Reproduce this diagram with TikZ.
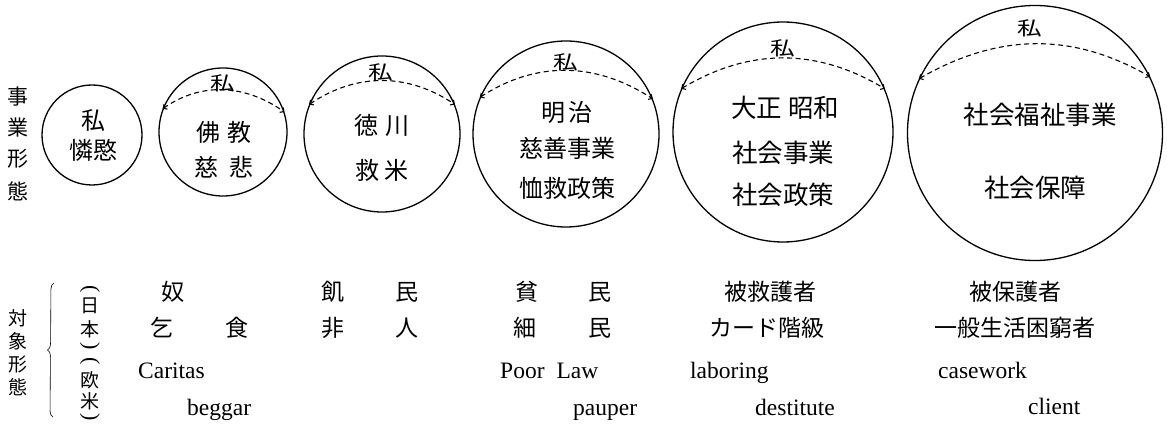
\documentclass[tikz,border=0pt]{standalone}
\usepackage{fontspec}
\setmainfont{Liberation Serif}
\newfontfamily\jp{Noto Sans CJK JP}
\usetikzlibrary{arrows.meta,decorations.pathreplacing}
\begin{document}
\begin{tikzpicture}[x=1pt,y=1pt,
  circ/.style={draw, circle, line width=1.3pt, inner sep=0pt, minimum size=#1},
  intxt/.style={font=\jp\fontsize{24}{24}\selectfont, inner sep=0pt},
  bigtxt/.style={font=\jp\fontsize{25.5}{25.5}\selectfont, inner sep=0pt},
  watashi/.style={font=\jp\fontsize{19}{19}\selectfont, inner sep=0pt},
  sidelab/.style={font=\jp\fontsize{21}{21}\selectfont, inner sep=0pt},
  sidelabb/.style={font=\jp\fontsize{19}{19}\selectfont, inner sep=0pt},
  vparen/.style={font=\fontsize{22}{22}\selectfont, inner sep=0pt, rotate=-90},
  rowjp/.style={font=\jp\fontsize{23}{23}\selectfont, inner sep=0pt},
  rowlat/.style={font=\fontsize{23.5}{23.5}\selectfont, inner sep=0pt, anchor=base west},
  splitline/.style={line width=1.1pt, dash pattern=on 5pt off 3.5pt,
     {Straight Barb[length=3pt,width=6pt]}-{Straight Barb[length=3pt,width=6pt]}},
  bracestyle/.style={line width=0.6pt, decorate, decoration={brace, amplitude=6pt}},
]
\useasboundingbox (0,0) rectangle (1167,423);

% ---- circles
\node[circ=100pt] (c1) at (92,288) {};
\node[circ=128pt] (c2) at (223,291) {};
\node[circ=156pt] (c3) at (382,289) {};
\node[circ=186pt] (c4) at (566,289) {};
\node[circ=220pt] (c5) at (783,291) {};
\node[circ=255pt] (c6) at (1035,290) {};

% ---- dashed division lines
\draw[splitline] (c2.159) to[out=35,in=145] (c2.18);
\draw[splitline] (c3.158) to[out=34,in=146] (c3.22);
\draw[splitline] (c4.157) to[out=33,in=147] (c4.22);
\draw[splitline] (c5.157) to[out=31,in=149] (c5.23);
\draw[splitline] (c6.155) to[out=30,in=150] (c6.26);

% ---- circle texts
\node[intxt] (t1a) at (93,303) {私};
\node[intxt] (t1b) at (93,273) {憐愍};

\node[watashi] (w2) at (223,340) {\scalebox{1.3}[1]{私}};
\node[intxt] (t2a) at (224,291) {佛\hspace{7pt}教};
\node[intxt] (t2b) at (224,256) {慈\hspace{11pt}悲};

\node[watashi] (w3) at (381,351) {\scalebox{1.3}[1]{私}};
\node[intxt] (t3a) at (382,298) {徳\hspace{7pt}川};
\node[intxt] (t3b) at (382,253) {救\hspace{5pt}米};

\node[watashi] (w4) at (566,361) {\scalebox{1.3}[1]{私}};
\node[intxt] (t4a) at (567,311) {明\hspace{4pt}治};
\node[intxt] (t4b) at (567,275) {慈善事業};
\node[intxt] (t4c) at (567,235) {恤救政策};

\node[watashi] (w5) at (783,375) {\scalebox{1.3}[1]{私}};
\node[bigtxt] (t5a) at (785,315) {大正\hspace{6pt}昭和};
\node[bigtxt] (t5b) at (783,270) {社会事業};
\node[bigtxt] (t5c) at (783,228) {社会政策};

\node[watashi] (w6) at (1030,395) {\scalebox{1.3}[1]{私}};
\node[bigtxt] (t6a) at (1040,308) {社会福祉事業};
\node[bigtxt] (t6b) at (1035,235) {社会保障};

% ---- left labels
\node[sidelab] (s1) at (18,326) {事};
\node[sidelab] (s2) at (18,295) {業};
\node[sidelab] (s3) at (18,264) {形};
\node[sidelab] (s4) at (18,232) {態};

\node[sidelabb] (b1) at (18,105) {対};
\node[sidelabb] (b2) at (18,82) {象};
\node[sidelabb] (b3) at (18,59) {形};
\node[sidelabb] (b4) at (18,36) {態};

\draw[bracestyle] (53,6) -- (54,140);

\node[vparen] (p1) at (90,134) {(};
\node[sidelabb] (p2) at (90,117) {日};
\node[sidelabb] (p3) at (90,94) {本};
\node[vparen] (p4) at (90,77) {)};
\node[vparen] (p5) at (90,62) {(};
\node[sidelabb] (p6) at (90,43) {欧};
\node[sidelabb] (p7) at (90,22) {米};
\node[vparen] (p8) at (90,6) {)};

% ---- object rows (Japanese)
\node[rowjp] (r1) at (173,131) {奴};
\node[rowjp] (r2) at (162,95) {乞};
\node[rowjp] (r3) at (237,95) {食};
\node[rowjp] (r4) at (333,131) {飢};
\node[rowjp] (r5) at (407,131) {民};
\node[rowjp] (r6) at (333,95) {非};
\node[rowjp] (r7) at (407,95) {人};
\node[rowjp] (r8) at (527,131) {貧};
\node[rowjp] (r9) at (600,131) {民};
\node[rowjp] (r10) at (525,95) {細};
\node[rowjp] (r11) at (600,95) {民};
\node[rowjp] (r12) at (770,131) {被救護者};
\node[rowjp] (r13) at (767,95) {カード階級};
\node[rowjp] (r14) at (1015,131) {被保護者};
\node[rowjp] (r15) at (1015,95) {一般生活困窮者};

% ---- object rows (Western)
\node[rowlat] (e1) at (138,44) {Caritas};
\node[rowlat] (e2) at (187,8) {beggar};
\node[rowlat] (e3) at (500,44) {Poor\hspace{12pt}Law};
\node[rowlat] (e4) at (573,8) {pauper};
\node[rowlat] (e5) at (690,44) {laboring};
\node[rowlat] (e6) at (755,8) {destitute};
\node[rowlat] (e7) at (938,45) {casework};
\node[rowlat] (e8) at (1028,9) {client};
\end{tikzpicture}
\end{document}
